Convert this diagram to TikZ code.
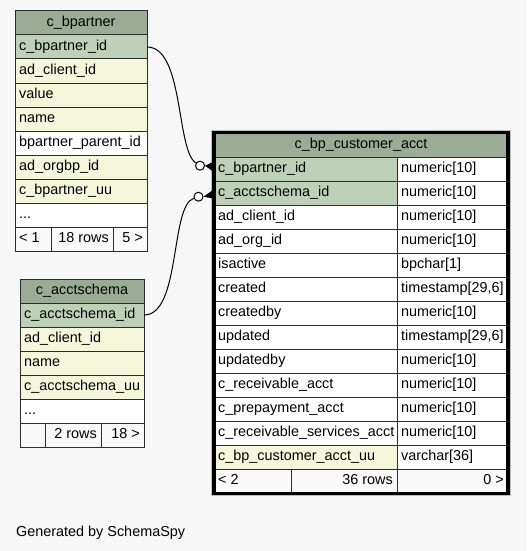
\documentclass[tikz,border=0pt]{standalone}
\usepackage{fontspec}
\setmainfont{Liberation Sans}
\definecolor{bgc}{HTML}{F7F7F7}
\definecolor{titlec}{HTML}{9BAB96}
\definecolor{pkc}{HTML}{BED1B8}
\definecolor{yelc}{HTML}{F4F7DA}
\definecolor{linec}{HTML}{2B2B2B}
\definecolor{footc}{HTML}{F9F9F9}
\tikzset{
  cell/.style={draw=linec, line width=1pt, minimum height=24pt, inner sep=0pt, outer sep=0pt, anchor=north west},
  lbl/.style={inner xsep=4pt, inner ysep=0pt, text height=10pt, text depth=3pt, font=\fontsize{14.4}{16}\selectfont},
  edge/.style={draw=black, line width=1pt},
  dotc/.style={circle, draw=black, line width=1pt, fill=white, minimum size=9pt, inner sep=0pt},
  crowf/.style={fill=black}
}
\newcommand\cellL[6]{\node[cell,fill=#5,minimum width=#4pt,label={[lbl,anchor=west]west:#6}] (#1) at (#2,#3) {};}
\newcommand\cellR[6]{\node[cell,fill=#5,minimum width=#4pt,label={[lbl,anchor=east]east:#6}] (#1) at (#2,#3) {};}
\newcommand\cellT[6]{\node[cell,fill=#5,minimum width=#4pt,lbl,inner xsep=0pt] (#1) at (#2,#3) {#6};}
\begin{document}
\begin{tikzpicture}[x=1pt,y=-1pt]
\useasboundingbox (0,0) rectangle (527,551);
\fill[bgc] (0,0) rectangle (527,551);

% c_bpartner
\cellT{bpt}{15}{11}{132}{titlec}{c\_bpartner}
\cellL{bp1}{15}{35}{132}{pkc}{c\_bpartner\_id}
\cellL{bp2}{15}{59}{132}{yelc}{ad\_client\_id}
\cellL{bp3}{15}{83}{132}{yelc}{value}
\cellL{bp4}{15}{107}{132}{yelc}{name}
\cellL{bp5}{15}{131}{132}{white}{bpartner\_parent\_id}
\cellL{bp6}{15}{155}{132}{yelc}{ad\_orgbp\_id}
\cellL{bp7}{15}{179}{132}{yelc}{c\_bpartner\_uu}
\cellL{bp8}{15}{203}{132}{white}{...}
\cellL{bpf1}{15}{227}{36}{footc}{< 1}
\cellR{bpf2}{51}{227}{62}{footc}{18 rows}
\cellR{bpf3}{113}{227}{34}{footc}{5 >}

% c_acctschema
\cellT{ast}{20}{279}{124}{titlec}{c\_acctschema}
\cellL{as1}{20}{303}{124}{pkc}{c\_acctschema\_id}
\cellL{as2}{20}{327}{124}{yelc}{ad\_client\_id}
\cellL{as3}{20}{351}{124}{yelc}{name}
\cellL{as4}{20}{375}{124}{yelc}{c\_acctschema\_uu}
\cellL{as5}{20}{399}{124}{white}{...}
\cellL{asf1}{20}{423}{25}{footc}{}
\cellR{asf2}{45}{423}{56}{footc}{2 rows}
\cellR{asf3}{101}{423}{43}{footc}{18 >}

% c_bp_customer_acct
\cellT{mt}{214}{133}{294}{titlec}{c\_bp\_customer\_acct}
\cellL{m1}{214}{157}{183}{pkc}{c\_bpartner\_id}
\cellL{t1}{397}{157}{111}{white}{numeric[10]}
\cellL{m2}{214}{181}{183}{pkc}{c\_acctschema\_id}
\cellL{t2}{397}{181}{111}{white}{numeric[10]}
\cellL{m3}{214}{205}{183}{white}{ad\_client\_id}
\cellL{t3}{397}{205}{111}{white}{numeric[10]}
\cellL{m4}{214}{229}{183}{white}{ad\_org\_id}
\cellL{t4}{397}{229}{111}{white}{numeric[10]}
\cellL{m5}{214}{253}{183}{white}{isactive}
\cellL{t5}{397}{253}{111}{white}{bpchar[1]}
\cellL{m6}{214}{277}{183}{white}{created}
\cellL{t6}{397}{277}{111}{white}{timestamp[29,6]}
\cellL{m7}{214}{301}{183}{white}{createdby}
\cellL{t7}{397}{301}{111}{white}{numeric[10]}
\cellL{m8}{214}{325}{183}{white}{updated}
\cellL{t8}{397}{325}{111}{white}{timestamp[29,6]}
\cellL{m9}{214}{349}{183}{white}{updatedby}
\cellL{t9}{397}{349}{111}{white}{numeric[10]}
\cellL{m10}{214}{373}{183}{white}{c\_receivable\_acct}
\cellL{t10}{397}{373}{111}{white}{numeric[10]}
\cellL{m11}{214}{397}{183}{white}{c\_prepayment\_acct}
\cellL{t11}{397}{397}{111}{white}{numeric[10]}
\cellL{m12}{214}{421}{183}{white}{c\_receivable\_services\_acct}
\cellL{t12}{397}{421}{111}{white}{numeric[10]}
\cellL{m13}{214}{445}{183}{yelc}{c\_bp\_customer\_acct\_uu}
\cellL{t13}{397}{445}{111}{white}{varchar[36]}
\cellL{mf1}{214}{469}{77}{footc}{< 2}
\cellR{mf2}{291}{469}{106}{footc}{36 rows}
\cellR{mf3}{397}{469}{111}{footc}{0 >}
\draw[black!25, line width=1pt] (211.5,130) rectangle (510.8,495.5);
\draw[black, line width=3.4pt] (214,132.3) rectangle (508,493.3);

% connectors
\node[dotc] (c1) at (200,165.7) {};
\node[dotc] (c2) at (198.5,196.7) {};
\draw[edge] (bp1.east) .. controls (184,47) and (176,150) .. (c1);
\draw[edge] (as1.east) .. controls (181,315) and (170,206) .. (c2);
\fill[crowf] (c1.east) -- (213,162) -- (213,171.5) -- cycle;
\fill[crowf] (c2.east) -- (213,190) -- (213,198.5) -- cycle;

\node[lbl, inner xsep=0pt, anchor=base west] (gen) at (16,536) {Generated by SchemaSpy};
\end{tikzpicture}
\end{document}
